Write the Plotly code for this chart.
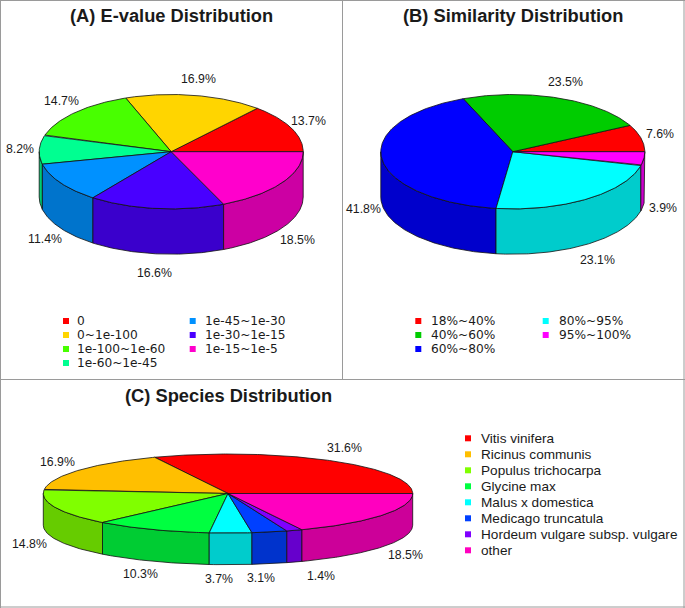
import math
import plotly.graph_objects as go

# ---------- data ----------
a_title = "(A) E-value Distribution"
a_labels = ["0", "0~1e-100", "1e-100~1e-60", "1e-60~1e-45", "1e-45~1e-30", "1e-30~1e-15", "1e-15~1e-5"]
a_values = [13.7, 16.9, 14.7, 8.2, 11.4, 16.6, 18.5]
a_colors = ["#ff0000", "#ffd500", "#48ff00", "#00ff91", "#0091ff", "#4800ff", "#ff00cc"]

b_title = "(B) Similarity Distribution"
b_labels = ["18%~40%", "40%~60%", "60%~80%", "80%~95%", "95%~100%"]
b_values = [7.6, 23.5, 41.8, 23.1, 3.9]
b_colors = ["#ff0000", "#00cc00", "#0000ff", "#00ffff", "#ff00ff"]

c_title = "(C) Species Distribution"
c_labels = ["Vitis vinifera", "Ricinus communis", "Populus trichocarpa", "Glycine max",
            "Malus x domestica", "Medicago truncatula", "Hordeum vulgare subsp. vulgare", "other"]
c_values = [31.6, 16.9, 14.8, 10.3, 3.7, 3.1, 1.4, 18.5]
c_colors = ["#ff0000", "#ffbf00", "#80ff00", "#00ff40", "#00ffff", "#0040ff", "#8000ff", "#ff00bf"]

# ---------- layout constants (pixels) ----------
FONT = "Liberation Sans"
INK = "#1a1a1a"
PIES = [
    dict(values=a_values, colors=a_colors, labels=a_labels, title=a_title, cx=171.2, cy=151.7, rx=132, ry=57.2,
         depth=45.3, lx=151, ly=74, ldrop=2, nudge={}, title_xy=(171, 15)),
    dict(values=b_values, colors=b_colors, labels=b_labels, title=b_title, cx=512.8, cy=151.7, rx=132, ry=57.2,
         depth=45.3, lx=151, ly=74, ldrop=2, nudge={}, title_xy=(513, 15)),
    dict(values=c_values, colors=c_colors, labels=c_labels, title=c_title, cx=228, cy=493.5, rx=184.7, ry=39.5,
         depth=31.7, lx=212, ly=54, ldrop=0, nudge={4: (-12, 0), 5: (-15, 0), 6: (17, 0)}, title_xy=(228, 395)),
]
LEGENDS = [
    dict(colors=a_colors, labels=a_labels, cols=[(66, 74.5), (192.7, 202.5)], col_len=4, y0=321, dy=14,
         size=12.2, family="DejaVu Sans"),
    dict(colors=b_colors, labels=b_labels, cols=[(418.3, 428.5), (545.7, 556.5)], col_len=3, y0=321, dy=14,
         size=12.2, family="DejaVu Sans"),
    dict(colors=c_colors, labels=c_labels, cols=[(468, 479.2)], col_len=8, y0=438.3, dy=16,
         size=13.6, family=FONT),
]


def darker(hex_color, f=0.8):
    r, g, b = (int(hex_color[i:i + 2], 16) for i in (1, 3, 5))
    return f"rgb({r * f:.0f},{g * f:.0f},{b * f:.0f})"


def arc(lo, hi):
    n = max(2, int(abs(hi - lo) * 1.5))
    return [lo + (hi - lo) * i / n for i in range(n + 1)]


fig = go.Figure()
ann = []


def poly(xs, ys, color):
    fig.add_trace(go.Scatter(x=xs, y=ys, mode="lines", fill="toself", fillcolor=color,
                             line=dict(color="#111111", width=0.8), hoverinfo="skip", showlegend=False))


for p in PIES:
    total = sum(p["values"])
    cx, cy, rx, ry, d = p["cx"], p["cy"], p["rx"], p["ry"], p["depth"]
    spans = []
    acc = 0.0
    for v in p["values"]:
        spans.append((acc / total * 360, (acc + v) / total * 360))
        acc += v
    px = lambda t: cx + rx * math.cos(math.radians(t))
    py = lambda t: cy - ry * math.sin(math.radians(t))
    # side walls (front half only)
    for (lo, hi), col in zip(spans, p["colors"]):
        a, b = max(lo, 180), min(hi, 360)
        if b > a:
            ts = arc(a, b)
            xs = [px(t) for t in ts] + [px(t) for t in reversed(ts)]
            ys = [py(t) for t in ts] + [py(t) + d for t in reversed(ts)]
            poly(xs + xs[:1], ys + ys[:1], darker(col))
    # top faces
    for (lo, hi), col in zip(spans, p["colors"]):
        ts = arc(lo, hi)
        xs = [cx] + [px(t) for t in ts] + [cx]
        ys = [cy] + [py(t) for t in ts] + [cy]
        poly(xs, ys, col)
    # percentage labels
    for i, ((lo, hi), v) in enumerate(zip(spans, p["values"])):
        m = math.radians((lo + hi) / 2)
        x = cx + p["lx"] * math.cos(m)
        y = cy - p["ly"] * math.sin(m)
        if math.sin(m) < 0:
            y += d + p["ldrop"]
        nx, ny = p["nudge"].get(i, (0, 0))
        ann.append(dict(x=x + nx, y=y + ny, text=f"{v}%", showarrow=False, xanchor="center", yanchor="middle",
                        font=dict(family=FONT, size=12.3, color=INK)))
    ann.append(dict(x=p["title_xy"][0], y=p["title_xy"][1], text=f"<b>{p['title']}</b>", showarrow=False,
                    xanchor="center", yanchor="middle", font=dict(family=FONT, size=18.3, color=INK)))

for lg in LEGENDS:
    mx, my, mc = [], [], []
    for i, (lab, col) in enumerate(zip(lg["labels"], lg["colors"])):
        c = i // lg["col_len"]
        r = i % lg["col_len"]
        y = lg["y0"] + r * lg["dy"]
        mx.append(lg["cols"][c][0]); my.append(y); mc.append(col)
        ann.append(dict(x=lg["cols"][c][1], y=y, text=lab, showarrow=False, xanchor="left", yanchor="middle",
                        font=dict(family=lg["family"], size=lg["size"], color=INK)))
    fig.add_trace(go.Scatter(x=mx, y=my, mode="markers", hoverinfo="skip", showlegend=False,
                             marker=dict(symbol="square", size=6, color=mc, line=dict(width=0))))

frame = "#9a9a9a"
frames = [(0.5, 0, 0.5, 608), (684, 0, 684, 608), (0, 607, 685, 607), (0, 379.5, 685, 379.5),
          (342.5, 0, 342.5, 379.5), (0, 0.5, 685, 0.5)]
shapes = [dict(type="line", xref="x", yref="y", x0=a, y0=b, x1=c, y1=e, line=dict(color=frame, width=1))
          for a, b, c, e in frames]

fig.update_layout(
    width=685, height=608, margin=dict(l=0, r=0, t=0, b=0),
    paper_bgcolor="white", plot_bgcolor="white", showlegend=False,
    xaxis=dict(range=[0, 685], visible=False, fixedrange=True),
    yaxis=dict(range=[608, 0], visible=False, fixedrange=True),
    annotations=ann, shapes=shapes,
)
fig.write_html("out.html", config={"displayModeBar": False},
               post_script="document.body.style.margin='0';document.body.style.overflow='hidden';")
